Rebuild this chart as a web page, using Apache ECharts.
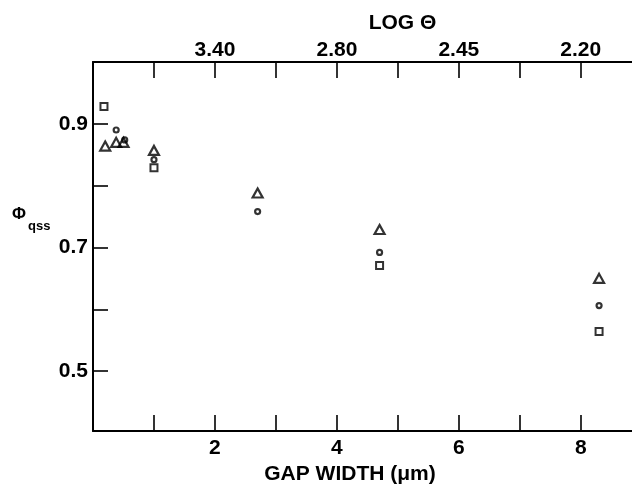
<!DOCTYPE html>
<html>
<head>
<meta charset="utf-8">
<script src="https://cdn.jsdelivr.net/npm/echarts@6/dist/echarts.min.js"></script>
<style>
html,body{margin:0;padding:0;background:#fff;}
#chart{width:632px;height:490px;}
</style>
</head>
<body>
<div id="chart"></div>
<script>
// ---- data ----
var bottomTicks = [1, 2, 3, 4, 5, 6, 7, 8];
var bottomLabels = [2, 4, 6, 8];
var topTicks = [1, 2, 3, 4, 5, 6, 7, 8];
var topLabelPos = [2, 4, 6, 8];
var topLabelText = ['3.40', '2.80', '2.45', '2.20'];
var yTicks = [0.5, 0.6, 0.7, 0.8, 0.9];
var yLabels = [0.5, 0.7, 0.9];

var triangleX = [0.2, 0.38, 0.5, 1.0, 2.7, 4.7, 8.3];
var triangleY = [0.864, 0.870, 0.870, 0.857, 0.788, 0.729, 0.650];
var circleX = [0.38, 0.52, 1.0, 2.7, 4.7, 8.3];
var circleY = [0.890, 0.874, 0.842, 0.758, 0.692, 0.606];
var squareX = [0.18, 1.0, 4.7, 8.3];
var squareY = [0.928, 0.829, 0.671, 0.564];

function pairs(xs, ys) { return xs.map(function (x, i) { return [x, ys[i]]; }); }

var FONT = 'Liberation Sans';
var chart = echarts.init(document.getElementById('chart'), null, {renderer: 'canvas'});
var axisLine = {show: true, lineStyle: {color: '#000', width: 2}};
var labelStyle = {color: '#000', fontFamily: FONT, fontWeight: 'bold', fontSize: 21};
var option = {
  animation: false,
  backgroundColor: '#fff',
  grid: {left: 93, right: 0, top: 62, bottom: 54, containLabel: false},
  xAxis: [{
    type: 'value', position: 'bottom', min: 0, max: 8.84,
    axisLine: axisLine,
    axisTick: {show: true, inside: true, length: 16, customValues: bottomTicks, lineStyle: {color: '#000', width: 1.6}},
    axisLabel: Object.assign({customValues: bottomLabels, margin: 7}, labelStyle),
    splitLine: {show: false},
    name: 'GAP WIDTH (\u03bcm)', nameLocation: 'middle', nameGap: 29,
    nameTextStyle: Object.assign({padding: [0, 25, 0, 0]}, labelStyle)
  }, {
    type: 'value', position: 'top', min: 0, max: 8.84,
    axisLine: axisLine,
    axisTick: {show: true, inside: true, length: 16, customValues: topTicks, lineStyle: {color: '#000', width: 1.6}},
    axisLabel: Object.assign({customValues: topLabelPos, margin: 1,
      formatter: function (v) { var i = topLabelPos.indexOf(Math.round(v)); return i >= 0 ? topLabelText[i] : ''; }}, labelStyle),
    splitLine: {show: false},
    name: 'LOG \u0398', nameLocation: 'middle', nameGap: 28,
    nameTextStyle: Object.assign({padding: [0, 0, 0, 80]}, labelStyle)
  }],
  yAxis: {
    type: 'value', min: 0.403, max: 1.0,
    axisLine: axisLine,
    axisTick: {show: true, inside: true, length: 15, customValues: yTicks, lineStyle: {color: '#000', width: 1.6}},
    axisLabel: Object.assign({customValues: yLabels, margin: 5,
      formatter: function (v) { return v.toFixed(1); }}, labelStyle),
    splitLine: {show: false}
  },
  graphic: [
    {type: 'text', left: 12, top: 206, style: {text: '\u03a6', font: 'bold 17px "Liberation Sans"', fill: '#000'}},
    {type: 'text', left: 28, top: 220, style: {text: 'qss', font: 'bold 13px "Liberation Sans"', fill: '#000'}}
  ],
  series: [{
    type: 'scatter', xAxisIndex: 0, symbol: 'triangle', symbolSize: [10, 9],
    itemStyle: {color: 'transparent', borderColor: '#000', borderWidth: 2.2},
    data: pairs(triangleX, triangleY)
  }, {
    type: 'scatter', xAxisIndex: 0, symbol: 'circle', symbolSize: 5,
    itemStyle: {color: 'transparent', borderColor: '#000', borderWidth: 2.2},
    data: pairs(circleX, circleY)
  }, {
    type: 'scatter', xAxisIndex: 0, symbol: 'rect', symbolSize: [7, 7],
    itemStyle: {color: 'transparent', borderColor: '#000', borderWidth: 2},
    data: pairs(squareX, squareY)
  }]
};
chart.setOption(option);
</script>
</body>
</html>
